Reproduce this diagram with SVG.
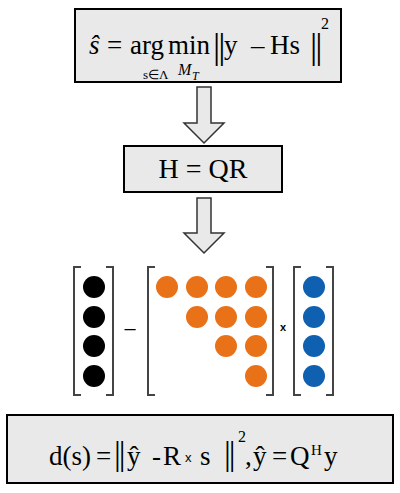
<svg xmlns="http://www.w3.org/2000/svg" width="400" height="493" viewBox="0 0 400 493">
<style>
.box{fill:#E8E9E8;stroke:#000;stroke-width:2}
.arrow{fill:#E8E9E8;stroke:#333;stroke-width:1.5;stroke-linejoin:miter}
.t{font-family:"Liberation Serif","Times New Roman",serif;fill:#000}
.s{font-family:"Liberation Sans",Arial,sans-serif;fill:#000}
.i{font-style:italic}
.bar{font-family:"Liberation Serif","Times New Roman",serif;fill:#000;letter-spacing:-2px}
.br{fill:none;stroke:#444;stroke-width:2}
.k{fill:#000}.o{fill:#E97219}.b{fill:#0F60B0}
</style>
<rect width="400" height="493" fill="#fff"/>
<g id="node-argmin">
<rect class="box" x="75" y="9" width="266" height="73"/>
<text class="t i" x="89" y="54" font-size="27">ŝ</text>
<text class="t" x="107" y="54" font-size="27">=</text>
<text class="t" x="130" y="54" font-size="27">arg</text>
<text class="t" x="168" y="54" font-size="27">min</text>
<text class="bar" x="213" y="57.5" font-size="36">||</text>
<text class="t" x="224" y="54" font-size="27">y</text>
<text class="t" x="251" y="54" font-size="27">–</text>
<text class="t" x="270" y="54" font-size="27">Hs</text>
<text class="bar" x="310" y="57.5" font-size="36">||</text>
<text class="t" x="321" y="29" font-size="16">2</text>
<text class="t" x="143" y="79" font-size="13">s∈Λ</text>
<text class="t i" x="178" y="75" font-size="16">M</text>
<text class="t i" x="192" y="80" font-size="12">T</text>
</g>
<g id="node-qr">
<rect class="box" x="124" y="146" width="158" height="46"/>
<text class="t" x="203" y="178" font-size="28" text-anchor="middle">H = QR</text>
</g>
<g id="node-matrix">
<path class="br" d="M81 267H74V395H81M106 267H113V395H106"/>
<circle class="k" cx="94" cy="287" r="11"/>
<circle class="k" cx="94" cy="317" r="11"/>
<circle class="k" cx="94" cy="346" r="11"/>
<circle class="k" cx="94" cy="376" r="11"/>
<text class="s" x="130" y="335" font-size="20" text-anchor="middle" fill="#444">–</text>
<path class="br" d="M155 267H148V395H155M266 267H273V395H266"/>
<circle class="o" cx="167" cy="287" r="11"/>
<circle class="o" cx="197" cy="287" r="11"/>
<circle class="o" cx="226" cy="287" r="11"/>
<circle class="o" cx="256" cy="287" r="11"/>
<circle class="o" cx="197" cy="317" r="11"/>
<circle class="o" cx="226" cy="317" r="11"/>
<circle class="o" cx="256" cy="317" r="11"/>
<circle class="o" cx="226" cy="346" r="11"/>
<circle class="o" cx="256" cy="346" r="11"/>
<circle class="o" cx="256" cy="376" r="11"/>
<text class="s" x="283" y="331" font-size="11" font-weight="bold" text-anchor="middle">x</text>
<path class="br" d="M301 267H294V395H301M326 267H333V395H326"/>
<circle class="b" cx="314" cy="287" r="11"/>
<circle class="b" cx="314" cy="317" r="11"/>
<circle class="b" cx="314" cy="346" r="11"/>
<circle class="b" cx="314" cy="376" r="11"/>
</g>
<g id="node-distance">
<rect class="box" x="7" y="415" width="386" height="68"/>
<text class="t" x="49" y="465" font-size="27">d(s)</text>
<text class="t" x="96" y="465" font-size="27">=</text>
<text class="bar" x="114" y="464.5" font-size="34">||</text>
<text class="t" x="127" y="465" font-size="27">ŷ</text>
<text class="t" x="152" y="465" font-size="27">-</text>
<text class="t" x="163" y="465" font-size="27">R</text>
<text class="s" x="185" y="462" font-size="13">x</text>
<text class="t" x="200" y="465" font-size="27">s</text>
<text class="bar" x="224" y="464.5" font-size="34">||</text>
<text class="t" x="238" y="442" font-size="16">2</text>
<text class="t" x="245" y="465" font-size="27">,</text>
<text class="t" x="253" y="465" font-size="27">ŷ</text>
<text class="t" x="272" y="465" font-size="27">=</text>
<text class="t" x="290" y="465" font-size="27">Q</text>
<text class="t" x="311" y="455" font-size="15">H</text>
<text class="t" x="324" y="465" font-size="27">y</text>
</g>
<g id="connectors">
<polygon class="arrow" points="197,87 211,87 211,123 224,123 204,143 184,123 197,123"/>
<polygon class="arrow" points="197,198 211,198 211,233 224,233 204,253 184,233 197,233"/>
</g>
</svg>
